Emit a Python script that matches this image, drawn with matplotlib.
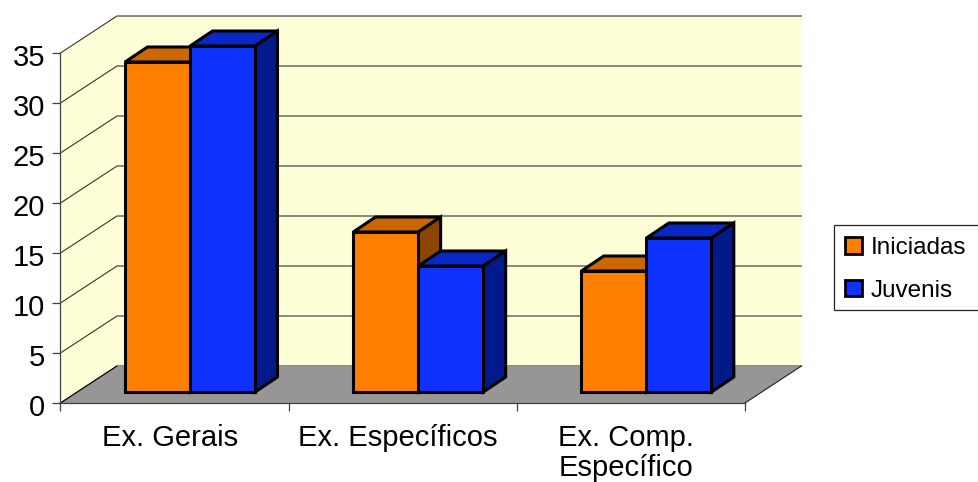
#!/usr/bin/python3

from matplotlib import pyplot as plt
from matplotlib.patches import Patch, Polygon, Rectangle
from matplotlib.transforms import ScaledTranslation
import numpy as np

categories = ['Ex. Gerais', 'Ex. Específicos', 'Ex. Comp.\nEspecífico']
iniciadas = [33.0, 16.0, 12.1]
juvenis = [34.6, 12.6, 15.4]
yticks = [0, 5, 10, 15, 20, 25, 30, 35]

plt.rcParams['font.family'] = ['Liberation Sans', 'DejaVu Sans']

# fake 3d: depth is a shear in data units
DX, DY = 0.2475, 3.7          # full depth of the box
BAR_DX, BAR_DY = 0.068, 1.1   # where bar fronts sit
BAR_DEPTH_X, BAR_DEPTH_Y = 0.098, 1.5
WIDTH = 0.285

WALL = '#FFFFD7'
FLOOR = '#969696'
ORANGE = ('#FF7F00', '#CC6600', '#8C4600')
BLUE = ('#0F32FF', '#0A28C8', '#001A8C')

fig = plt.figure(figsize=(9.79, 4.82), dpi=100)
ax = fig.add_axes([60.5 / 979, 79 / 482, 684.5 / 979, 350 / 482])
ax.set_xlim(0, 3)
ax.set_ylim(0, 35)
ax.patch.set_visible(False)
for side in ['top', 'right']:
    ax.spines[side].set_visible(False)
for side in ['left', 'bottom']:
    ax.spines[side].set_color('#404040')
    ax.spines[side].set_linewidth(0.9)
    ax.spines[side].set_zorder(5)


def poly(points, color, z, edge='none', lw=0):
    ax.add_patch(Polygon(points, closed=True, facecolor=color, edgecolor=edge,
                         linewidth=lw, zorder=z, clip_on=False, joinstyle='miter'))


def line(xs, ys, z=2, color='#333333', lw=0.8):
    ax.plot(xs, ys, color=color, lw=lw, zorder=z, clip_on=False)


# walls and floor
poly([(DX, DY), (3 + DX, DY), (3 + DX, 35 + DY), (DX, 35 + DY)], WALL, 1)
poly([(0, 0), (DX, DY), (DX, 35 + DY), (0, 35)], WALL, 1)
poly([(0, 0), (3, 0), (3 + DX, DY), (DX, DY)], FLOOR, 3)

for v in yticks:
    line([0, DX, 3 + DX], [v, v + DY, v + DY])
line([3, 3 + DX], [0, DY], z=4, color='#222222')
line([0, DX], [0, DY], z=4, color='#000000')


def bar3d(left, height, colors, z):
    x0 = left + BAR_DX
    x1 = x0 + WIDTH
    y0 = BAR_DY
    y1 = BAR_DY + height
    dx, dy = BAR_DEPTH_X, BAR_DEPTH_Y
    poly([(x0, y1), (x1, y1), (x1 + dx, y1 + dy), (x0 + dx, y1 + dy)], colors[1], z, 'black', 2.2)
    poly([(x1, y0), (x1 + dx, y0 + dy), (x1 + dx, y1 + dy), (x1, y1)], colors[2], z, 'black', 2.2)
    poly([(x0, y0), (x1, y0), (x1, y1), (x0, y1)], colors[0], z + 0.1, 'black', 2.2)


for i in range(len(categories)):
    bar3d(i + 0.5 - WIDTH, iniciadas[i], ORANGE, 6 + i)
    bar3d(i + 0.5, juvenis[i], BLUE, 6.5 + i)

ax.set_yticks(yticks)
ax.tick_params(axis='y', labelsize=21, length=6, width=0.9, color='#404040', pad=5)
# digits sit a little low in the original
shift = ScaledTranslation(0, -2 / 100, fig.dpi_scale_trans)
for lab in ax.get_yticklabels():
    lab.set_transform(lab.get_transform() + shift)
ax.set_xticks(np.arange(4))
ax.set_xticklabels([])
ax.tick_params(axis='x', which='major', length=6, width=0.9, color='#404040')
ax.set_xticks(np.arange(3) + 0.48, minor=True)
ax.set_xticklabels(categories, minor=True, fontsize=21, linespacing=1.12)
ax.tick_params(axis='x', which='minor', length=0, pad=15)

# box runs off the right edge of the picture, so it is drawn apart from the legend
fig.add_artist(Rectangle((834 / 979, (482 - 310) / 482), 160 / 979, 85 / 482,
                         transform=fig.transFigure, facecolor='white',
                         edgecolor='#222222', linewidth=0.9))
handles = [Patch(facecolor=ORANGE[0], edgecolor='black', linewidth=2.0),
           Patch(facecolor=BLUE[0], edgecolor='black', linewidth=2.0)]
leg = fig.legend(handles, ['Iniciadas', 'Juvenis'], loc='upper left',
                 bbox_to_anchor=(834 / 979, (482 - 226) / 482), fontsize=17.5,
                 frameon=False, handlelength=0.68, handleheight=0.68, handletextpad=0.36,
                 labelspacing=0.84, borderpad=0.46, borderaxespad=0)
leg.set_zorder(10)

fig.savefig('out.png', dpi=100)
